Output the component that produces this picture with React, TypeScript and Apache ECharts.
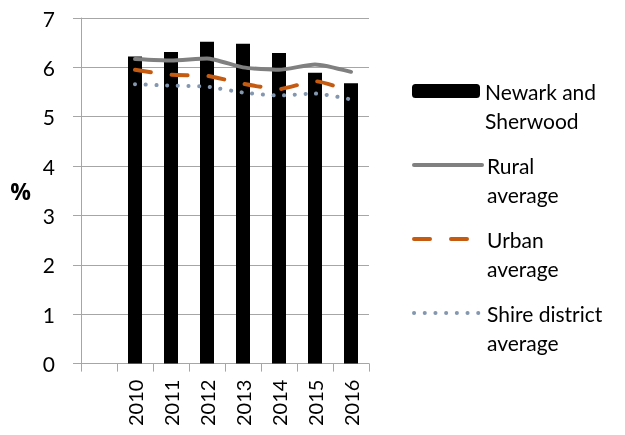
import React, { useEffect, useRef } from "react";
import * as echarts from "echarts";

const categories = ["", "2010", "2011", "2012", "2013", "2014", "2015", "2016"];
const newarkValues = [null, 6.22, 6.31, 6.52, 6.48, 6.29, 5.89, 5.68];
const ruralValues = [null, 6.17, 6.14, 6.18, 6.0, 5.95, 6.06, 5.91];
const urbanValues = [null, 5.95, 5.85, 5.83, 5.67, 5.56, 5.72, 5.51];
const shireValues = [null, 5.66, 5.63, 5.61, 5.49, 5.43, 5.47, 5.35];
const yTicks = [0, 1, 2, 3, 4, 5, 6, 7];

const seriesNames = ["Newark and Sherwood", "Rural average", "Urban average", "Shire district average"];
const legendLabels: Record<string, string[]> = {
  "Newark and Sherwood": ["Newark and", "Sherwood"],
  "Rural average": ["Rural", "average"],
  "Urban average": ["Urban", "average"],
  "Shire district average": ["Shire district", "average"],
};

const FONT = "Lato";
const GRAY = "#A6A6A6";

export default function App() {
  const ref = useRef<HTMLDivElement>(null);
  useEffect(() => {
    if (!ref.current) return;
    const chart = echarts.init(ref.current, undefined, { renderer: "svg" });
    const lineH = 29;
    const mkLegend = (name: string, iconY: number, extra: any) => ({
      show: true,
      data: [name],
      left: 412,
      top: iconY - (lineH * 3) / 2,
      padding: 0,
      itemWidth: 68,
      itemHeight: 14,
      selectedMode: false,
      formatter: (n: string) => "\n" + legendLabels[n].join("\n"),
      textStyle: {
        fontFamily: FONT,
        fontSize: 21,
        color: "#000",
        lineHeight: lineH,
      },
      ...extra,
    });
    const hiddenSym = { opacity: 0, borderWidth: 0 };
    chart.setOption({
      animation: false,
      textStyle: { fontFamily: FONT },
      grid: { left: 81, right: 256, top: 18, bottom: 71.4, containLabel: false },
      legend: [
        mkLegend(seriesNames[0], 91, {}),
        mkLegend(seriesNames[1], 165, {
          itemStyle: hiddenSym,
          lineStyle: { width: 4, color: "#808080", cap: "round" },
        }),
        mkLegend(seriesNames[2], 239, {
          itemStyle: hiddenSym,
          lineStyle: { width: 4, color: "#C55A11", type: [16, 21], cap: "round" },
        }),
        mkLegend(seriesNames[3], 313, {
          itemStyle: hiddenSym,
          lineStyle: { width: 4, color: "#8497B0", type: [0.1, 10.6], cap: "round" },
        }),
      ],
      xAxis: {
        type: "category",
        data: categories,
        boundaryGap: true,
        axisLine: { show: true, lineStyle: { color: GRAY, width: 1 } },
        axisTick: { show: true, interval: 0, length: 8, lineStyle: { color: GRAY } },
        axisLabel: {
          interval: 0,
          rotate: 90,
          margin: 16,
          fontFamily: FONT,
          fontSize: 20,
          color: "#000",
        },
        splitLine: { show: false },
      },
      yAxis: {
        type: "value",
        min: yTicks[0],
        max: yTicks[yTicks.length - 1],
        interval: 1,
        name: "%",
        nameLocation: "middle",
        nameRotate: 0,
        nameGap: 50,
        nameTextStyle: {
          fontFamily: "Open Sans",
          fontSize: 23,
          fontWeight: "bold",
          color: "#000",
          align: "right",
        },
        axisLine: { show: true, lineStyle: { color: GRAY, width: 1 } },
        axisTick: { show: true, length: 8, lineStyle: { color: GRAY } },
        axisLabel: { margin: 26, fontFamily: FONT, fontSize: 21, color: "#000" },
        splitLine: { show: true, lineStyle: { color: GRAY, width: 1 } },
      },
      series: [
        {
          name: seriesNames[0],
          type: "bar",
          data: newarkValues,
          barWidth: 14,
          itemStyle: { color: "#000" },
        },
        {
          name: seriesNames[1],
          type: "line",
          data: ruralValues,
          symbol: "none",
          smooth: 0.2,
          lineStyle: { color: "#808080", width: 4, cap: "round" },
          itemStyle: { color: "#808080" },
        },
        {
          name: seriesNames[2],
          type: "line",
          data: urbanValues,
          symbol: "none",
          smooth: 0.2,
          lineStyle: { color: "#C55A11", width: 4, type: [16, 21], cap: "round" },
          itemStyle: { color: "#C55A11" },
        },
        {
          name: seriesNames[3],
          type: "line",
          data: shireValues,
          symbol: "none",
          smooth: 0.2,
          lineStyle: { color: "#8497B0", width: 4, type: [0.1, 10.6], cap: "round" },
          itemStyle: { color: "#8497B0" },
        },
      ],
    });
    return () => chart.dispose();
  }, []);
  return <div ref={ref} style={{ position: "fixed", left: 0, top: 0, width: 625, height: 435 }} />;
}
